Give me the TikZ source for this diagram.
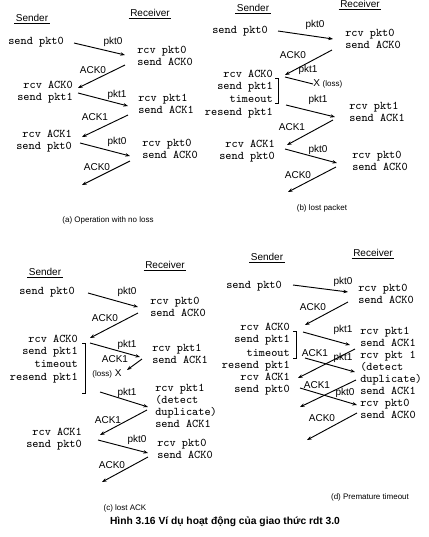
\documentclass[tikz,border=0pt]{standalone}
\usepackage{fontspec}
\setsansfont{Liberation Sans}
\usetikzlibrary{arrows.meta}

\begin{document}
\begin{tikzpicture}[x=0.75pt,y=-0.75pt]

		\tikzset{line/.style={draw,line width=0.7pt}}
		\tikzset{msg/.style={line,-{Stealth[length=3.5pt,width=2.6pt]}}}
		\tikzset{state/.style={font=\ttfamily\fontsize{8.8}{9}\selectfont,inner sep=0pt,yshift=4.2pt}}
		\tikzset{sstate/.style={state,align=right,anchor=north east}}
		\tikzset{rstate/.style={state,align=left,anchor=north west}}
		\tikzset{lbl/.style={font=\sffamily\fontsize{7.5}{8}\selectfont,inner sep=0pt}}
		\tikzset{hdr/.style={lbl,inner sep=1pt}}
		\tikzset{subcap/.style={font=\sffamily\fontsize{6}{7}\selectfont,inner sep=0pt}}
		\tikzset{uline/.style={draw,line width=0.4pt}}

		\useasboundingbox (0,0) rectangle (429,537);

		% (a) no loss
		\node[hdr] (a-snd) at (32,18) {Sender};
		\node[hdr] (a-rcv) at (150,13) {Receiver};
		\path[uline] (a-snd.south west) -- (a-snd.south east);
		\path[uline] (a-rcv.south west) -- (a-rcv.south east);

		\node[sstate] (a-s1) at (64,43) {send pkt0};
		\node[sstate] (a-s2) at (73,86) {rcv ACK0\\send pkt1};
		\node[sstate] (a-s3) at (72,135) {rcv ACK1\\send pkt0};
		\node[rstate] (a-r1) at (137,52) {rcv pkt0\\send ACK0};
		\node[rstate] (a-r2) at (138,100) {rcv pkt1\\send ACK1};
		\node[rstate] (a-r3) at (142,145) {rcv pkt0\\send ACK0};

		\coordinate (a1) at (74,43);   \coordinate (a2) at (125,55);
		\coordinate (a3) at (125,65);  \coordinate (a4) at (78,88);
		\coordinate (a5) at (78,93);   \coordinate (a6) at (128,106);
		\coordinate (a7) at (128,115); \coordinate (a8) at (82,137);
		\coordinate (a9) at (80,143);  \coordinate (a10) at (130,156);
		\coordinate (a11) at (130,161);\coordinate (a12) at (82,185);

		\path[msg] (a1) to (a2);
		\path[msg] (a3) to (a4);
		\path[msg] (a5) to (a6);
		\path[msg] (a7) to (a8);
		\path[msg] (a9) to (a10);
		\path[msg] (a11) to (a12);

		\node[lbl] (a-l1) at (113,42) {pkt0};
		\node[lbl] (a-l2) at (93,70) {ACK0};
		\node[lbl] (a-l3) at (117,95) {pkt1};
		\node[lbl] (a-l4) at (95,117) {ACK1};
		\node[lbl] (a-l5) at (117,142) {pkt0};
		\node[lbl] (a-l6) at (97,167) {ACK0};

		\node[subcap] (a-cap) at (108,220) {(a) Operation with no loss};

		% (b) lost packet
		\node[hdr] (b-snd) at (253,8) {Sender};
		\node[hdr] (b-rcv) at (360,4) {Receiver};
		\path[uline] (b-snd.south west) -- (b-snd.south east);
		\path[uline] (b-rcv.south west) -- (b-rcv.south east);

		\node[sstate] (b-s1) at (268,32) {send pkt0};
		\node[sstate,font=\ttfamily\fontsize{8.8}{9.5}\selectfont] (b-s2) at (273,75) {rcv ACK0\\send pkt1\\timeout\\resend pkt1};
		\node[sstate] (b-s3) at (275,145) {rcv ACK1\\send pkt0};
		\node[rstate] (b-r1) at (345,35) {rcv pkt0\\send ACK0};
		\node[rstate] (b-r2) at (349,108) {rcv pkt1\\send ACK1};
		\node[rstate] (b-r3) at (352,157) {rcv pkt0\\send ACK0};
		\path[line] (275,78) -- (278,78) -- (278,103) -- (275,103);

		\coordinate (b1) at (278,31);  \coordinate (b2) at (333,39);
		\coordinate (b3) at (332,50);  \coordinate (b4) at (285,75);
		\coordinate (b5) at (285,77);
		\coordinate (b7) at (286,105); \coordinate (b8) at (335,117);
		\coordinate (b9) at (333,120); \coordinate (b10) at (287,145);
		\coordinate (b11) at (285,149);\coordinate (b12) at (337,163);
		\coordinate (b13) at (336,167);\coordinate (b14) at (288,192);

		\node[lbl,anchor=west] (b-loss) at (313,84) {X {\fontsize{6}{7}\selectfont(loss)}};

		\path[msg] (b1) to (b2);
		\path[msg] (b3) to (b4);
		\path[line] (b5) to (b-loss.west);
		\path[msg] (b7) to (b8);
		\path[msg] (b9) to (b10);
		\path[msg] (b11) to (b12);
		\path[msg] (b13) to (b14);

		\node[lbl] (b-l1) at (315,25) {pkt0};
		\node[lbl] (b-l2) at (293,55) {ACK0};
		\node[lbl] (b-l3) at (308,70) {pkt1};
		\node[lbl] (b-l4) at (318,100) {pkt1};
		\node[lbl] (b-l5) at (292,127) {ACK1};
		\node[lbl] (b-l6) at (318,150) {pkt0};
		\node[lbl] (b-l7) at (298,175) {ACK0};

		\node[subcap] (b-cap) at (322,208) {(b) lost packet};

		% (c) lost ACK
		\node[hdr] (c-snd) at (45,272) {Sender};
		\node[hdr] (c-rcv) at (165,265) {Receiver};
		\path[uline] (c-snd.south west) -- (c-snd.south east);
		\path[uline] (c-rcv.south west) -- (c-rcv.south east);

		\node[sstate] (c-s1) at (75,293) {send pkt0};
		\node[sstate,font=\ttfamily\fontsize{8.8}{9.5}\selectfont] (c-s2) at (78,340) {rcv ACK0\\send pkt1\\timeout\\resend pkt1};
		\node[sstate] (c-s3) at (82,433) {rcv ACK1\\send pkt0};
		\node[rstate] (c-r1) at (150,303) {rcv pkt0\\send ACK0};
		\node[rstate] (c-r2) at (152,350) {rcv pkt1\\send ACK1};
		\node[rstate] (c-r3) at (155,390) {rcv pkt1\\(detect\\duplicate)\\send ACK1};
		\node[rstate] (c-r4) at (157,445) {rcv pkt0\\send ACK0};
		\path[line] (82,343) -- (85,343) -- (85,393) -- (82,393);

		\coordinate (c1) at (88,293);  \coordinate (c2) at (138,307);
		\coordinate (c3) at (138,313); \coordinate (c4) at (90,338);
		\coordinate (c5) at (90,343);  \coordinate (c6) at (140,357);
		\coordinate (c7) at (142,359); \coordinate (c8) at (127,370);
		\coordinate (c9) at (100,392); \coordinate (c10) at (148,407);
		\coordinate (c11) at (147,410);\coordinate (c12) at (100,435);
		\coordinate (c13) at (98,440); \coordinate (c14) at (148,453);
		\coordinate (c15) at (148,457);\coordinate (c16) at (102,482);

		\path[msg] (c1) to (c2);
		\path[msg] (c3) to (c4);
		\path[msg] (c5) to (c6);
		\path[msg] (c7) to (c8);
		\path[msg] (c9) to (c10);
		\path[msg] (c11) to (c12);
		\path[msg] (c13) to (c14);
		\path[msg] (c15) to (c16);

		\node[lbl] (c-l1) at (127,292) {pkt0};
		\node[lbl] (c-l2) at (105,318) {ACK0};
		\node[lbl] (c-l3) at (127,345) {pkt1};
		\node[lbl] (c-l4) at (115,359) {ACK1};
		\node[lbl] (c-loss) at (107,374) {{\fontsize{6}{7}\selectfont(loss)} X};
		\node[lbl] (c-l5) at (127,393) {pkt1};
		\node[lbl] (c-l6) at (108,420) {ACK1};
		\node[lbl] (c-l7) at (137,440) {pkt0};
		\node[lbl] (c-l8) at (112,465) {ACK0};

		\node[subcap] (c-cap) at (125,508) {(c) lost ACK};

		% (d) premature timeout
		\node[hdr] (d-snd) at (267,257) {Sender};
		\node[hdr] (d-rcv) at (373,253) {Receiver};
		\path[uline] (d-snd.south west) -- (d-snd.south east);
		\path[uline] (d-rcv.south west) -- (d-rcv.south east);

		\node[sstate] (d-s1) at (282,287) {send pkt0};
		\node[sstate] (d-s2) at (290,328) {rcv ACK0\\send pkt1};
		\node[sstate] (d-s3) at (290,355) {timeout\\resend pkt1\\rcv ACK1\\send pkt0};
		\node[rstate] (d-r1) at (358,290) {rcv pkt0\\send ACK0};
		\node[rstate] (d-r2) at (360,333) {rcv pkt1\\send ACK1\\rcv pkt 1\\(detect\\duplicate)\\send ACK1\\rcv pkt0\\send ACK0};
		\path[line] (293,331) -- (296,331) -- (296,358) -- (293,358);

		\coordinate (d1) at (293,285); \coordinate (d2) at (348,292);
		\coordinate (d3) at (348,302); \coordinate (d4) at (305,325);
		\coordinate (d5) at (303,332); \coordinate (d6) at (350,345);
		\coordinate (d7) at (355,349); \coordinate (d8) at (298,378);
		\coordinate (d9) at (305,358); \coordinate (d10) at (355,372);
		\coordinate (d11) at (356,380);\coordinate (d12) at (300,407);
		\coordinate (d13) at (300,388);\coordinate (d14) at (357,405);
		\coordinate (d15) at (357,413);\coordinate (d16) at (307,440);

		\path[msg] (d1) to (d2);
		\path[msg] (d3) to (d4);
		\path[msg] (d5) to (d6);
		\path[msg] (d7) to (d8);
		\path[msg] (d9) to (d10);
		\path[msg] (d11) to (d12);
		\path[msg] (d13) to (d14);
		\path[msg] (d15) to (d16);

		\node[lbl] (d-l1) at (343,282) {pkt0};
		\node[lbl] (d-l2) at (313,307) {ACK0};
		\node[lbl] (d-l3) at (343,330) {pkt1};
		\node[lbl] (d-l4) at (315,353) {ACK1};
		\node[lbl] (d-l5) at (343,358) {pkt1};
		\node[lbl] (d-l6) at (317,385) {ACK1};
		\node[lbl] (d-l7) at (345,393) {pkt0};
		\node[lbl] (d-l8) at (322,418) {ACK0};

		\node[subcap] (d-cap) at (370,497) {(d) Premature timeout};

		\node[font=\sffamily\bfseries\fontsize{7.7}{8}\selectfont,inner sep=0pt] (fig-cap) at (225,522) {Hình 3.16 Ví dụ hoạt động của giao thức rdt 3.0};

	\end{tikzpicture}
\end{document}
